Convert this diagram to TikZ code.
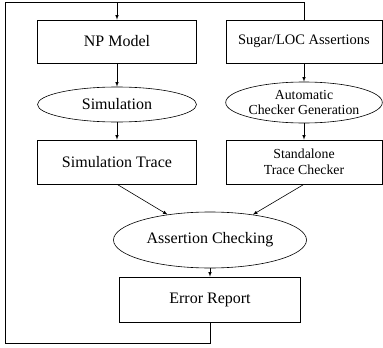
\documentclass[tikz,border=0pt]{standalone}
\usepackage{fontspec}
\setmainfont{Liberation Serif}
\usetikzlibrary{shapes.geometric}
\begin{document}
\begin{tikzpicture}[x=1pt, y=-1pt, >=latex, line width=0.6pt,
    box/.style={draw, rectangle, minimum height=43pt, inner sep=0pt, font=\fontsize{16}{19}\selectfont},
    oval/.style={draw, ellipse, inner sep=0pt, font=\fontsize{16}{19}\selectfont},
    small/.style={font=\fontsize{13.8}{15.5}\selectfont, align=center}]
  \useasboundingbox (0,0) rectangle (383,348);
  % left column
  \node[box, minimum width=159pt] (np) at (117,41.5) {NP Model};
  \node[oval, minimum width=159pt, minimum height=35pt] (sim) at (117,104.5) {Simulation};
  \node[box, minimum width=159pt, minimum height=44pt] (trace) at (117,162) {Simulation Trace};
  % right column
  \node[box, minimum width=156pt, font=\fontsize{14.5}{17}\selectfont] (sugar) at (304,41.5) {Sugar/LOC Assertions};
  \node[oval, small, minimum width=156pt, minimum height=41pt] (gen) at (304,102.5) {Automatic\\Checker Generation};
  \node[box, small, minimum width=156pt, minimum height=44pt] (checker) at (304,162) {Standalone\\Trace Checker};
  % bottom
  \node[oval, minimum width=193pt, minimum height=56pt] (check) at (210,240) {Assertion Checking};
  \node[box, minimum width=181pt, minimum height=45pt] (report) at (210,299.5) {Error Report};
  \coordinate (lb) at (5,343);
  \coordinate (lt) at (5,2);
  \draw[->] (np) -- (sim);
  \draw[->] (sim) -- (trace);
  \draw[->] (sugar) -- (gen);
  \draw[->] (gen) -- (checker);
  \draw[->] (trace.south) -- (check);
  \draw[->] (checker.south) -- (check);
  \draw[->] (check) -- (report);
  % feedback loop
  \draw (report.south) |- (lb) -- (lt) -| (sugar.north);
  \draw[->] (np.north |- lt) -- (np.north);
\end{tikzpicture}
\end{document}
